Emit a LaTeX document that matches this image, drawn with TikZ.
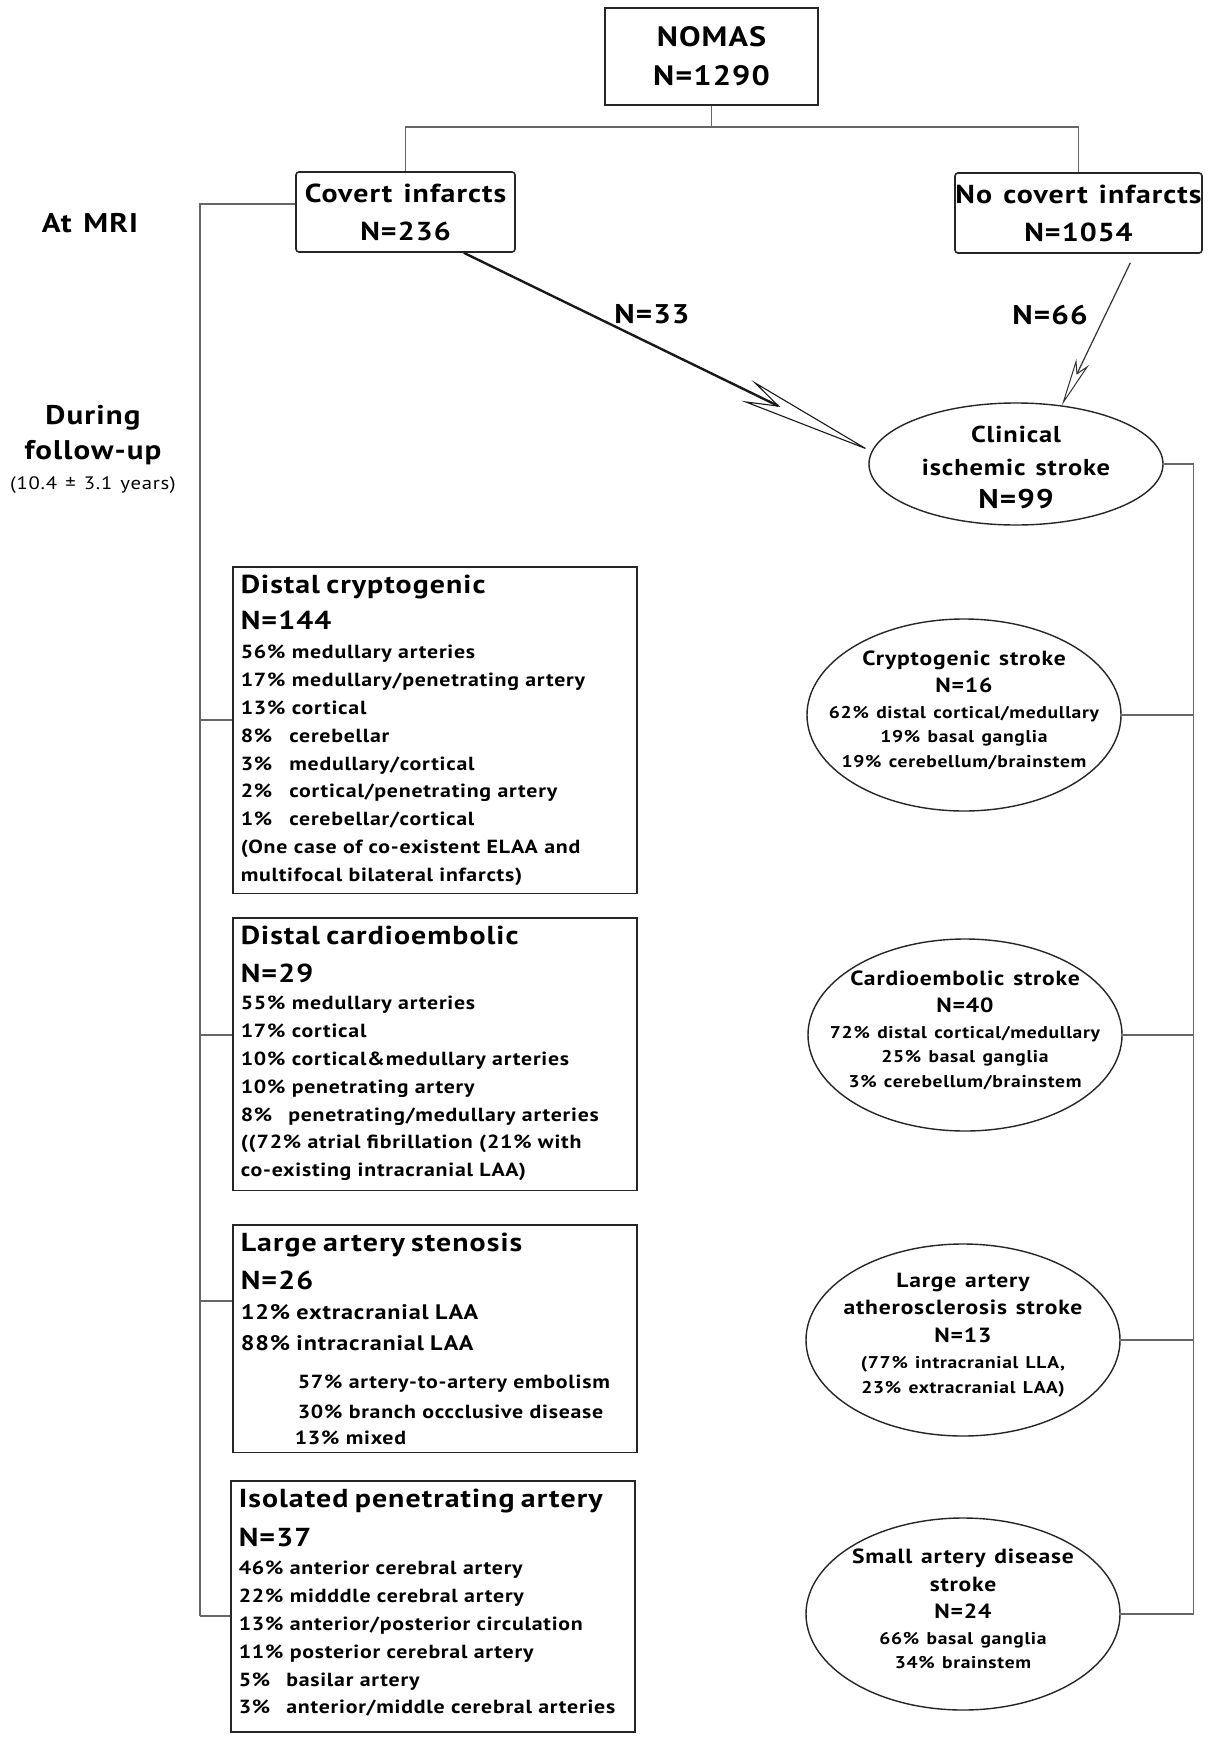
\documentclass[tikz,border=0pt]{standalone}
\usepackage{fontspec}
\setmainfont[LetterSpace=4, FakeStretch=1.15, WordSpace=1.3]{PT Sans}
\usetikzlibrary{arrows.meta,shapes.geometric}

\newcommand{\headfont}{\fontsize{26}{30}\selectfont}
\newcommand{\bigline}{\fontsize{21}{26}\selectfont}
\newcommand{\titlefont}{\fontsize{20.5}{26}\selectfont}

\tikzset{
  topbox/.style={draw=black!85, line width=1.6pt, align=center, inner sep=0pt,
    font=\fontsize{26}{38}\selectfont\bfseries},
  casebox/.style={draw=black!85, line width=1.6pt, anchor=north west,
    text width=388pt, inner xsep=8pt, inner ysep=8pt, align=left,
    font=\fontsize{19}{27.8}\selectfont\bfseries},
  strokeell/.style={ellipse, draw=black!85, line width=1.4pt,
    minimum width=314pt, minimum height=192pt, inner sep=0pt},
  elltext/.style={align=center, yshift=5pt, font=\fontsize{17}{24.5}\selectfont\bfseries},
  sidelabel/.style={align=center, font=\fontsize{27}{35}\selectfont\bfseries},
  arrowlabel/.style={font=\fontsize{27}{30}\selectfont\bfseries},
  tree/.style={draw=black!60, line width=1.2pt},
}

\begin{document}
\begin{tikzpicture}[x=1pt,y=-1pt]
    \useasboundingbox[fill=white] (0,0) rectangle (1230,1750);

    % top of the tree
    \node[topbox, minimum width=213pt, minimum height=97pt,
      font=\fontsize{28}{39}\selectfont\bfseries] (nomas) at (711.5,56.5) {NOMAS\\N=1290};
    \node[topbox, rounded corners=3pt, minimum width=219pt, minimum height=80pt] (covert) at (405.5,212) {Covert infarcts\\N=236};
    \node[topbox, rounded corners=3pt, minimum width=247pt, minimum height=80pt] (nocovert) at (1078.5,213) {No covert infarcts\\N=1054};
    \coordinate (split) at (711.5,127);
    \draw[tree] (nomas.south) -- (split);
    \draw[tree] (split) -| (covert.north);
    \draw[tree] (split) -| (nocovert.north);

    \node[sidelabel] (atmri) at (90,223) {At MRI};
    \node[sidelabel] (followup) at (93,449) {During\\follow-up\\[-5pt]{\fontsize{18}{20}\selectfont\mdseries (10.4 ± 3.1 years)}};

    % clinical stroke
    \node[ellipse, draw=black!85, line width=1.4pt, minimum width=294pt, minimum height=122pt, inner sep=0pt,
      label={[align=center, yshift=-3pt, font=\fontsize{23}{33}\selectfont\bfseries]center:{Clinical\\ischemic stroke\\{\fontsize{27}{30}\selectfont N=99}}}] (clinical) at (1016,464) {};

    \draw[line width=2.4pt, black!90, -{Stealth[open, length=139pt, width=23pt, inset=34pt, line width=1.1pt]}] (covert.-35) -- (clinical.175);
    \node[arrowlabel] (n33) at (652,314) {N=33};
    \draw[line width=1.2pt, black!80, shorten <=10pt, -{Stealth[open, length=48pt, width=14pt, inset=12pt, line width=1pt]}] (nocovert.-36) -- (clinical.52);
    \node[arrowlabel] (n66) at (1050,315) {N=66};

    % covert infarct patterns
    \node[casebox] (distcrypt) at (232,566) {{\headfont Distal cryptogenic}\\[8pt]
      {\headfont N=144}\\[2pt]
      56\% medullary arteries\\
      17\% medullary/penetrating artery\\
      13\% cortical\\
      8\%\hspace{17pt}cerebellar\\
      3\%\hspace{17pt}medullary/cortical\\
      2\%\hspace{17pt}cortical/penetrating artery\\
      1\%\hspace{17pt}cerebellar/cortical\\
      (One case of co-existent ELAA and\\
      multifocal bilateral infarcts)};
    \node[casebox] (distcardio) at (232,917) {{\headfont Distal cardioembolic}\\[10pt]
      {\headfont N=29}\\[0pt]
      55\% medullary arteries\\
      17\% cortical\\
      10\% cortical\&medullary arteries\\
      10\% penetrating artery\\
      8\%\hspace{16pt}penetrating/medullary arteries\\
      ((72\% atrial fibrillation (21\% with\\
      co-existing intracranial LAA)\\[-22pt]\mbox{}};
    \node[casebox] (largeart) at (232,1224) {{\headfont Large artery stenosis}\\[10pt]
      {\headfont N=26}\\[3pt]
      {\bigline 12\% extracranial LAA}\\[3pt]
      {\bigline 88\% intracranial LAA}\\[10pt]
      \hspace*{57pt}57\% artery-to-artery embolism\\[2pt]
      \hspace*{57pt}30\% branch occclusive disease\\[-2pt]
      \hspace*{54pt}13\% mixed};
    \node[casebox] (isolated) at (230,1480) {{\headfont Isolated penetrating artery}\\[11pt]
      {\headfont N=37}\\[1pt]
      46\% anterior cerebral artery\\
      22\% midddle cerebral artery\\
      13\% anterior/posterior circulation\\
      11\% posterior cerebral artery\\
      5\%\hspace{16pt}basilar artery\\
      3\%\hspace{16pt}anterior/middle cerebral arteries\\[-18pt]\mbox{}};

    \coordinate (b1) at (200,720);
    \coordinate (b2) at (200,1035);
    \coordinate (b3) at (200,1301);
    \coordinate (b4) at (200,1616);
    \draw[tree] ([yshift=8pt]covert.west) -| (b4);
    \foreach \b/\n in {b1/distcrypt, b2/distcardio, b3/largeart, b4/isolated}
    \draw[tree] (\b) -- (\b -| \n.west);

    % clinical stroke subtypes
    \node[strokeell, label={[elltext]center:{{\titlefont Cryptogenic stroke}\\[3pt]{\titlefont N=16}\\[1pt]
      62\% distal cortical/medullary\\19\% basal ganglia\\19\% cerebellum/brainstem}}] (cryptstroke) at (964,715) {};
    \node[strokeell, label={[elltext]center:{{\titlefont Cardioembolic stroke}\\[3pt]{\titlefont N=40}\\[1pt]
      72\% distal cortical/medullary\\25\% basal ganglia\\3\% cerebellum/brainstem}}] (cardiostroke) at (965,1035) {};
    \node[strokeell, label={[elltext]center:{{\titlefont Large artery}\\[3pt]{\titlefont atherosclerosis stroke}\\[3pt]{\titlefont N=13}\\[2pt]
      (77\% intracranial LLA,\\23\% extracranial LAA)}}] (largestroke) at (963,1340) {};
    \node[strokeell, label={[elltext]center:{{\titlefont Small artery disease}\\[3pt]{\titlefont stroke}\\[3pt]{\titlefont N=24}\\[1pt]
      66\% basal ganglia\\34\% brainstem}}] (smallart) at (963,1614) {};

    \draw[tree] (clinical.east) -- ++(30,0) coordinate (rtop) |- (smallart.east);
    \foreach \n in {cryptstroke, cardiostroke, largestroke}
    \draw[tree] (\n.east) -- (\n.east -| rtop);
\end{tikzpicture}
\end{document}
